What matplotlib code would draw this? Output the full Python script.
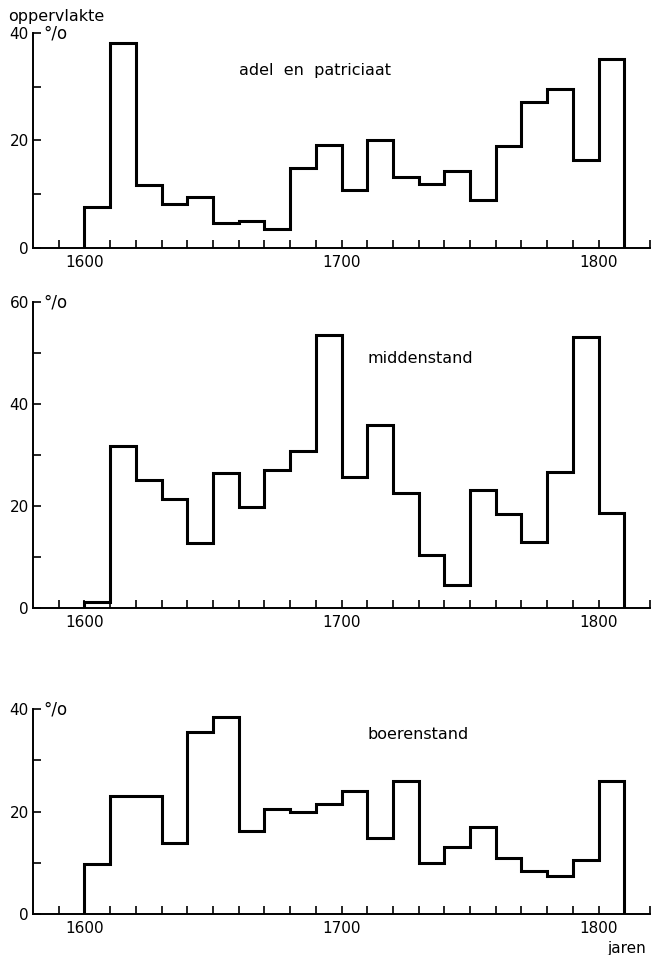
import matplotlib
matplotlib.use("Agg")
import matplotlib.pyplot as plt
import numpy as np

# decennia 1600-1810
edges = np.arange(1600, 1820, 10)

adel = [7.6, 38.1, 11.7, 8.2, 9.4, 4.7, 5.0, 3.6, 14.9, 19.1, 10.8,
        20.1, 13.3, 11.9, 14.3, 9.0, 19.0, 27.1, 29.6, 16.4, 35.1]
midden = [1.2, 31.7, 25.1, 21.4, 12.7, 26.4, 19.8, 27.1, 30.8, 53.5, 25.7,
          35.9, 22.6, 10.4, 4.6, 23.1, 18.4, 12.9, 26.6, 53.2, 18.7]
boeren = [9.7, 23.1, 23.1, 13.9, 35.6, 38.4, 16.1, 20.4, 20.0, 21.5, 24.0,
          14.9, 25.9, 10.0, 13.0, 17.0, 11.0, 8.4, 7.4, 10.6, 25.9]

titels = ["adel  en  patriciaat", "middenstand", "boerenstand"]
ymax = [40, 60, 40]
titel_pos = [(1660, 33), (1710, 49), (1710, 35)]

W, H = 651, 955
fig = plt.figure(figsize=(W / 100, H / 100), dpi=100)
plt.rcParams['font.family'] = 'DejaVu Sans'

# (onder, boven) in pixels
boxes = [(248, 33), (608, 302), (914, 709)]
left, right = 33, 650

for data, titel, top, (tx, ty), (yb, yt) in zip([adel, midden, boeren], titels,
                                                 ymax, titel_pos, boxes):
    ax = fig.add_axes([left / W, (H - yb) / H, (right - left) / W, (yb - yt) / H])
    ax.stairs(data, edges, baseline=0, color='black', lw=2.2)
    ax.set_xlim(1580, 1820)
    ax.set_ylim(0, top)
    for s in ['top', 'right']:
        ax.spines[s].set_visible(False)
    ax.spines['left'].set_linewidth(1.4)
    ax.spines['bottom'].set_linewidth(1.4)
    ax.set_xticks(np.arange(1590, 1821, 10), minor=True)
    ax.set_xticks([1600, 1700, 1800])
    ax.set_yticks(np.arange(0, top + 1, 20))
    ax.set_yticks(np.arange(10, top, 20), minor=True)
    ax.tick_params(axis='both', which='both', direction='in', width=1.2,
                   length=6, labelsize=11, pad=3)
    ax.tick_params(axis='x', pad=5)
    ax.text(tx, ty, titel, fontsize=11.5, va='center')
    ax.text(1584, top, "°/o", fontsize=12, va='center', clip_on=False)

fig.text(8 / W, 1 - 17 / H, "oppervlakte", fontsize=11.5, va='center')
fig.text(646 / W, 1 - 948 / H, "jaren", fontsize=11, va='center', ha='right')

fig.savefig("out.png", dpi=100)
